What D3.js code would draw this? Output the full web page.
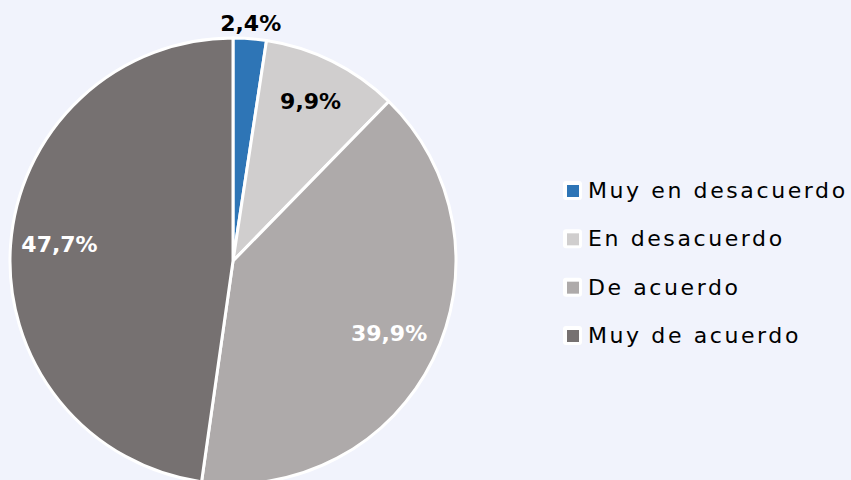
<!DOCTYPE html>
<meta charset="utf-8">
<script src="https://d3js.org/d3.v7.min.js"></script>
<style>
  body { margin: 0; background: #f1f3fc; }
  text { font-family: Verdana, "DejaVu Sans", sans-serif; }
</style>
<div id="chart"></div>
<script>
  // data
  var categories = ["Muy en desacuerdo", "En desacuerdo", "De acuerdo", "Muy de acuerdo"];
  var values = [2.4, 9.9, 39.9, 47.7];
  var labels = ["2,4%", "9,9%", "39,9%", "47,7%"];
  var colors = ["#2e75b6", "#d0cece", "#aeaaaa", "#767171"];
  var labelColors = ["#000", "#000", "#fff", "#fff"];

  var width = 851, height = 480;
  var cx = 233, cy = 261, radius = 223;

  var svg = d3.select("#chart").append("svg")
      .attr("width", width)
      .attr("height", height);

  var pie = d3.pie().sort(null).value(function(d) { return d; });
  var arcs = pie(values);

  var arc = d3.arc().innerRadius(0).outerRadius(radius);
  var g = svg.append("g").attr("transform", "translate(" + cx + "," + cy + ")");

  g.selectAll("path")
    .data(arcs)
    .enter().append("path")
      .attr("d", arc)
      .attr("fill", function(d, i) { return colors[i]; })
      .attr("stroke", "#fff")
      .attr("stroke-width", 3)
      .attr("stroke-linejoin", "round");

  // labels: small slice outside, others inside
  var inner = d3.arc().innerRadius(radius * 0.78).outerRadius(radius * 0.78);
  var outer = d3.arc().innerRadius(radius * 1.05).outerRadius(radius * 1.05);
  g.selectAll("text.lbl")
    .data(arcs)
    .enter().append("text")
      .attr("class", "lbl")
      .attr("transform", function(d, i) {
        var c = (values[i] < 5 ? outer : inner).centroid(d);
        return "translate(" + c + ")";
      })
      .attr("text-anchor", "middle")
      .attr("dy", "0.15em")
      .attr("font-size", 22)
      .attr("font-weight", "bold")
      .attr("fill", function(d, i) { return labelColors[i]; })
      .text(function(d, i) { return labels[i]; });

  // legend
  var ly = d3.scalePoint().domain(categories).range([190, 335]);
  var leg = svg.append("g").selectAll("g")
    .data(categories)
    .enter().append("g")
      .attr("transform", function(d) { return "translate(563," + ly(d) + ")"; });
  leg.append("rect")
    .attr("x", 0).attr("y", -9)
    .attr("width", 19).attr("height", 19)
    .attr("rx", 3)
    .attr("fill", "#fff");
  leg.append("rect")
    .attr("x", 4).attr("y", -5)
    .attr("width", 12).attr("height", 12)
    .attr("fill", function(d, i) { return colors[i]; });
  leg.append("text")
    .attr("x", 25)
    .attr("dy", "0.36em")
    .attr("font-size", 22)
    .attr("letter-spacing", 2.6)
    .attr("fill", "#000")
    .text(function(d) { return d; });
</script>
